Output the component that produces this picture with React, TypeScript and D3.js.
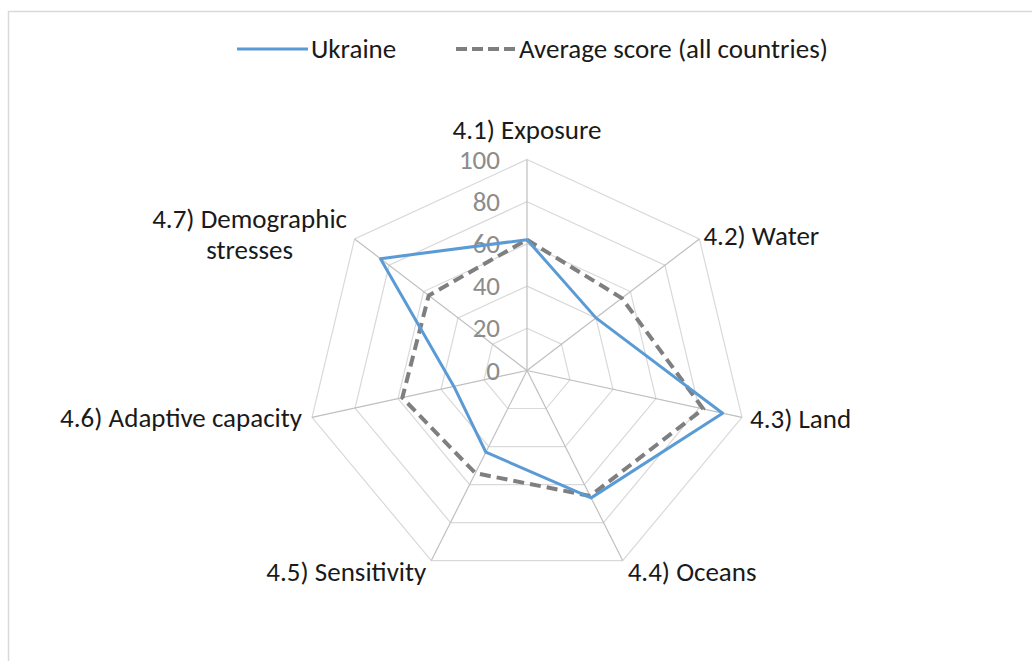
import * as d3 from 'd3';

const axes = [
  ['4.1) Exposure'],
  ['4.2) Water'],
  ['4.3) Land'],
  ['4.4) Oceans'],
  ['4.5) Sensitivity'],
  ['4.6) Adaptive capacity'],
  ['4.7) Demographic', 'stresses'],
];
const ukraine = [62, 40, 91, 67, 43, 34, 85];
const average = [62, 55, 82, 66, 54, 58, 57];
const ticks = [0, 20, 40, 60, 80, 100];

const W = 1032;
const H = 661;
const cx = 527;
const cy = 370.5;
const font = "Carlito, 'Noto Sans', sans-serif";
const fs = 27;

// the source image is a bit wider than tall
const rx = d3.scaleLinear().domain([0, 100]).range([0, 220.5]);
const ry = d3.scaleLinear().domain([0, 100]).range([0, 211]);

const angle = (i: number) => (2 * Math.PI * i) / axes.length;
const pt = (i: number, v: number): [number, number] => [
  cx + rx(v) * Math.sin(angle(i)),
  cy - ry(v) * Math.cos(angle(i)),
];

const polyline = d3.line<[number, number]>().curve(d3.curveLinearClosed);

// label placement: offset of the baseline from the axis end
const labelPos: { dx: number; dy: number; anchor: string }[] = [
  { dx: 0, dy: -21, anchor: 'middle' },
  { dx: 4, dy: 6, anchor: 'start' },
  { dx: 8, dy: 11, anchor: 'start' },
  { dx: 5, dy: 20, anchor: 'start' },
  { dx: -5, dy: 20, anchor: 'end' },
  { dx: -10, dy: 10, anchor: 'end' },
  { dx: -105, dy: -11, anchor: 'middle' },
];

export default function App() {
  const n = axes.length;
  return (
    <svg
      width={W}
      height={H}
      viewBox={`0 0 ${W} ${H}`}
      style={{ position: 'absolute', left: 0, top: 0, background: '#fff' }}
      fontFamily={font}
    >
      {/* frame */}
      <path d={`M8.5,${H} V11.5 H${W}`} fill="none" stroke="#d9d9d9" strokeWidth={1.5} />

      {/* legend */}
      <g fontSize={fs} fill="#1a1a1a">
        <line x1={237} x2={308} y1={49} y2={49} stroke="#5b9bd5" strokeWidth={3} />
        <text x={311} y={58}>Ukraine</text>
        <line x1={456} x2={516} y1={49} y2={49} stroke="#7f7f7f" strokeWidth={4} strokeDasharray="11,5" />
        <text x={519} y={58}>Average score (all countries)</text>
      </g>

      {/* grid rings */}
      {ticks.slice(1).map((t) => (
        <path
          key={t}
          d={polyline(d3.range(n).map((i) => pt(i, t)))!}
          fill="none"
          stroke="#d9d9d9"
          strokeWidth={1.2}
        />
      ))}
      {/* spokes */}
      {d3.range(n).map((i) => {
        const [x, y] = pt(i, 100);
        return <line key={i} x1={cx} y1={cy} x2={x} y2={y} stroke="#bfbfbf" strokeWidth={1.2} />;
      })}

      {/* tick labels */}
      <g fontSize={fs} fill="#8c8c8c" textAnchor="end">
        {ticks.map((t) => (
          <text key={t} x={cx - 27} y={cy - ry(t) + 9}>
            {t}
          </text>
        ))}
      </g>

      {/* series */}
      <path
        d={polyline(average.map((v, i) => pt(i, v)))!}
        fill="none"
        stroke="#7f7f7f"
        strokeWidth={4}
        strokeDasharray="11,6"
        strokeLinejoin="round"
      />
      <path
        d={polyline(ukraine.map((v, i) => pt(i, v)))!}
        fill="none"
        stroke="#5b9bd5"
        strokeWidth={3}
        strokeLinejoin="round"
      />

      {/* axis labels */}
      <g fontSize={fs} fill="#1a1a1a">
        {axes.map((lines, i) => {
          const [x, y] = pt(i, 100);
          const p = labelPos[i];
          return (
            <text key={i} x={x + p.dx} y={y + p.dy} textAnchor={p.anchor}>
              {lines.map((s, k) => (
                <tspan key={k} x={x + p.dx} dy={k === 0 ? 0 : 31}>
                  {s}
                </tspan>
              ))}
            </text>
          );
        })}
      </g>
    </svg>
  );
}
